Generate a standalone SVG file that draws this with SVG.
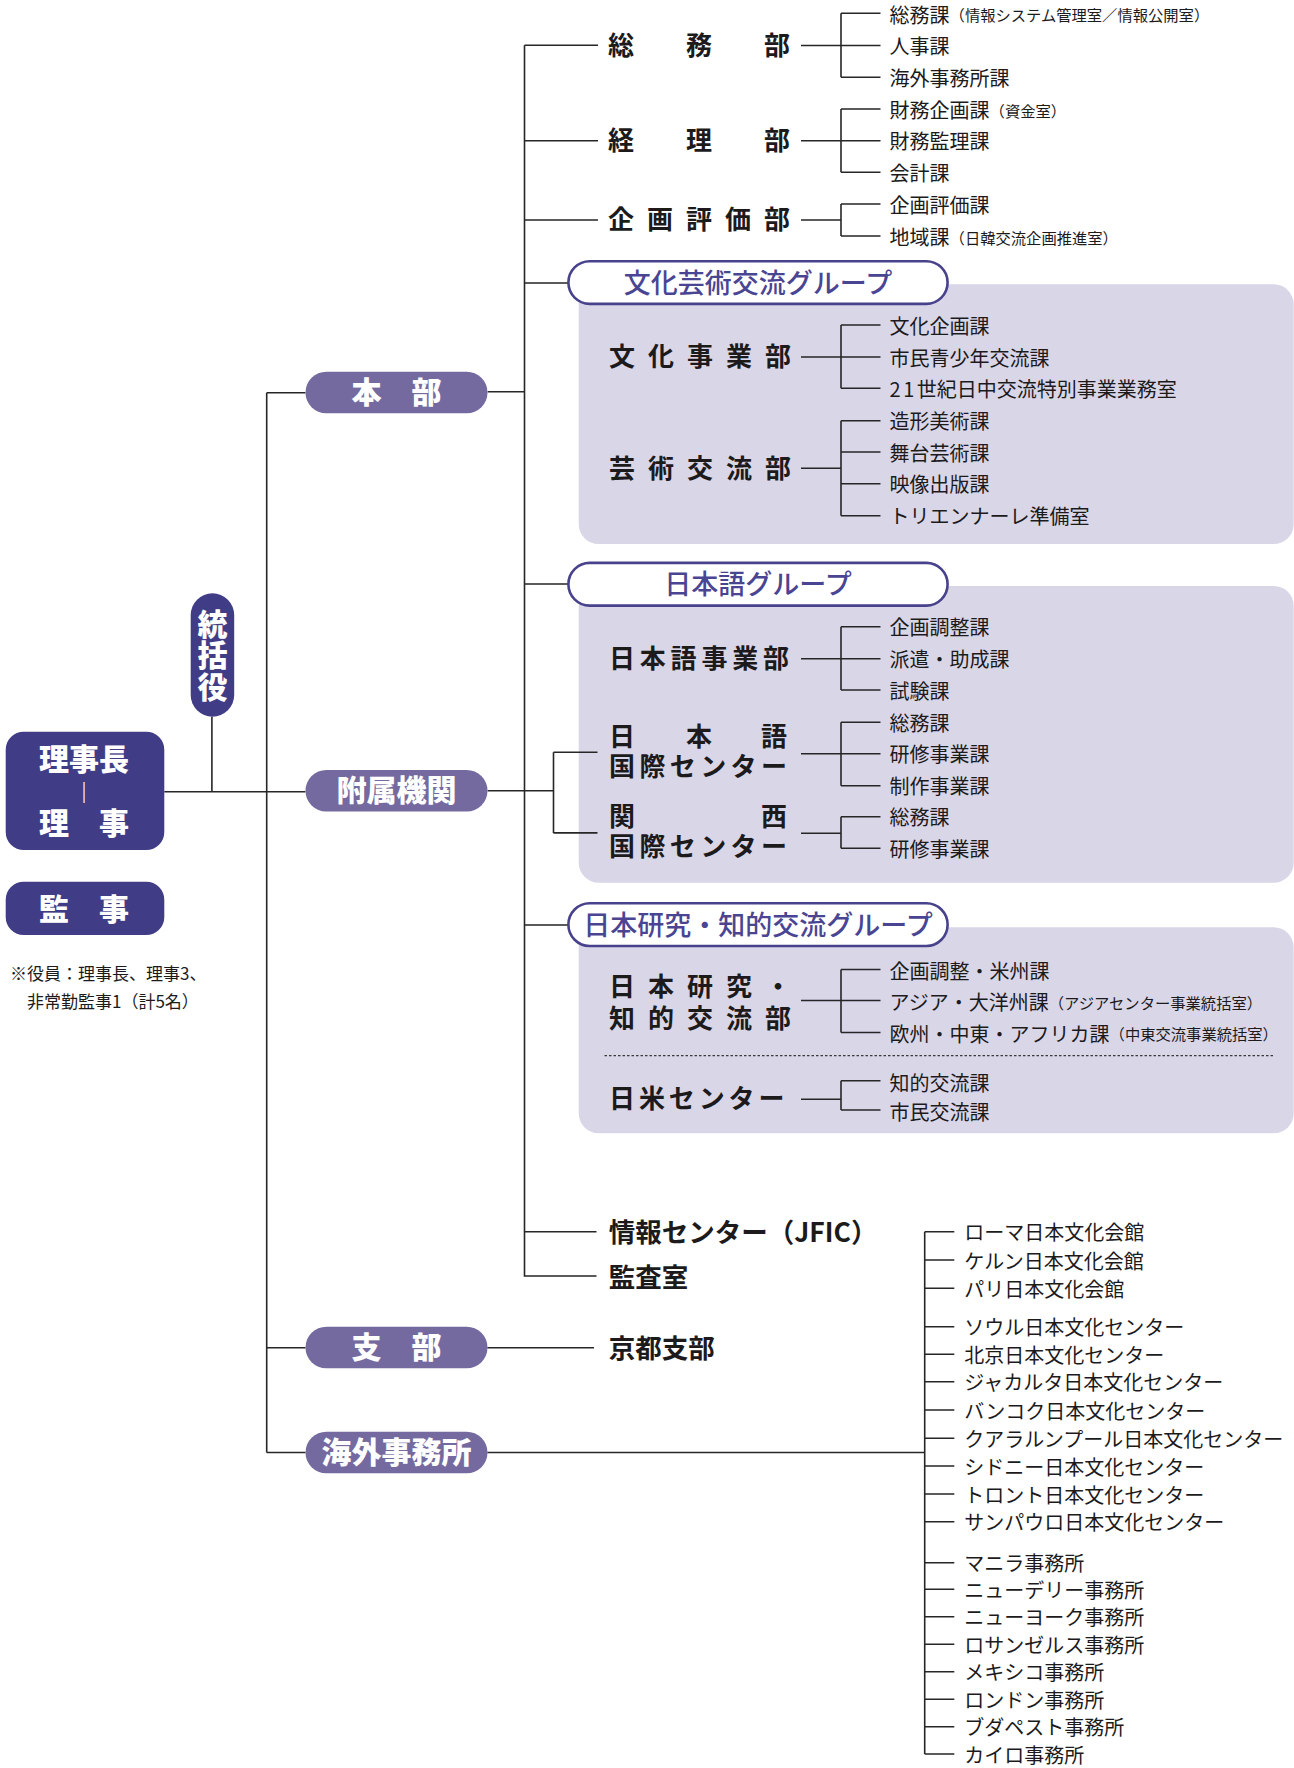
<svg xmlns="http://www.w3.org/2000/svg" width="1294" height="1768" viewBox="0 0 1294 1768">
<defs>
<style>
text{font-family:"Noto Sans CJK JP","Noto Sans CJK SC",sans-serif;dominant-baseline:central;fill:#1c1a1b}
.ln{fill:none;stroke:#262626;stroke-width:1.6}
.dot{fill:none;stroke:#3a3a3a;stroke-width:1.2;stroke-dasharray:2.5 2}
.exec{fill:#403c85}
.pill{fill:#746a9f}
.grp{fill:#fff;stroke:#47428b;stroke-width:2.6}
.shade{fill:#d9d6e8}
.wt{fill:#fff;font-weight:900;font-size:30px;text-anchor:middle}
.gt{fill:#4a4592;font-size:27px;font-weight:500;text-anchor:middle}
.dept{font-size:26px;font-weight:700}
.big{font-size:26.5px;font-weight:700}
.sub{font-size:20px}
.sm{font-size:15.3px}
.note{font-size:17px}
</style>
</defs>
<rect width="1294" height="1768" fill="#fff"/>

<g id="bg-culture"><rect class="shade" x="578.7" y="284.3" width="715" height="259.7" rx="20"/></g>
<g id="bg-japanese"><rect class="shade" x="578.7" y="586" width="715" height="296.7" rx="20"/></g>
<g id="bg-studies"><rect class="shade" x="578.7" y="927.3" width="715" height="206" rx="20"/></g>

<g id="connectors">
<path class="ln" d="M524.5 45.3V1276H596.5M524.5 45.3H598M524.5 140.7H598M524.5 220H598M524.5 283H568.4M487.6 391.7H524.5M524.5 584H568.4M487.6 790.7H553.5M553.5 752.3V832.9M553.5 752.3H597.5M553.5 832.9H597.5M524.5 925H568.4M524.5 1231.7H596.5"/>
<path class="ln" d="M266.7 392.7V1452.5M266.7 392.7H305.5M164.3 791.7H305.5M211.9 716.7V791.7M266.7 1347.7H305.5M266.7 1452.5H305.5M487.3 1347.7H594M487.3 1452.5H924.7"/>
<path class="ln" d="M801 45.5H841M841 13.3V77.3M841 13.3H880.5M841 45.5H880.5M841 77.3H880.5"/>
<path class="ln" d="M801 140.7H841M841 109V172.3M841 109H880.5M841 140.7H880.5M841 172.3H880.5"/>
<path class="ln" d="M801 220H841M841 204V236M841 204H880.5M841 236H880.5"/>
<path class="ln" d="M801 357H841M841 325V388.3M841 325H880.5M841 357H880.5M841 388.3H880.5"/>
<path class="ln" d="M801 468.3H841M841 420.7V515.7M841 420.7H880.5M841 452H880.5M841 483.7H880.5M841 515.7H880.5"/>
<path class="ln" d="M801 658.7H841M841 626.7V690M841 626.7H880.5M841 658.7H880.5M841 690H880.5"/>
<path class="ln" d="M801 753.7H841M841 722.3V785.7M841 722.3H880.5M841 753.7H880.5M841 785.7H880.5"/>
<path class="ln" d="M801 833.3H841M841 816.7V848.3M841 816.7H880.5M841 848.3H880.5"/>
<path class="ln" d="M801 1000.5H841M841 969.5V1032.5M841 969.5H880.5M841 1000.5H880.5M841 1032.5H880.5"/>
<path class="ln" d="M801 1099.3H841M841 1080.7V1110M841 1080.7H880.5M841 1110H880.5"/>
<path class="dot" d="M604.5 1055.7H1274"/>
<path class="ln" d="M924.7 1231.7V1754M924.7 1231.7H954.3M924.7 1260H954.3M924.7 1288.3H954.3M924.7 1326.7H954.3M924.7 1354.3H954.3M924.7 1381.7H954.3M924.7 1410H954.3M924.7 1438.3H954.3M924.7 1466H954.3M924.7 1494H954.3M924.7 1521.7H954.3M924.7 1562.7H954.3M924.7 1589.3H954.3M924.7 1616.7H954.3M924.7 1644.3H954.3M924.7 1671.7H954.3M924.7 1699.3H954.3M924.7 1726.7H954.3M924.7 1754H954.3"/>
</g>

<g id="n-chairman">
<rect class="exec" x="5.7" y="731.7" width="158.6" height="118.3" rx="18"/>
<text class="wt" x="84" y="756.5">理事長</text>
<text class="wt" x="84" y="791" style="font-size:21px">｜</text>
<text class="wt" x="84" y="821">理　事</text>
</g>
<g id="n-auditor">
<rect class="exec" x="5.7" y="881.7" width="158.6" height="53.3" rx="18"/>
<text class="wt" x="84" y="906.5">監　事</text>
</g>
<g id="n-tokatsu">
<rect class="exec" x="190.7" y="593.3" width="43.5" height="123.4" rx="21.75"/>
<text class="wt" x="212.5" y="655.5" style="writing-mode:vertical-rl;letter-spacing:1.5px">統括役</text>
</g>
<g id="n-note">
<text class="note" x="10" y="972">※役員：理事長、理事3、</text>
<text class="note" x="27" y="1000">非常勤監事1（計5名）</text>
</g>

<g id="n-honbu"><rect class="pill" x="305.5" y="371.7" width="182" height="41.6" rx="20.8"/><text class="wt" x="396.5" y="389.5">本　部</text></g>
<g id="n-fuzoku"><rect class="pill" x="305.5" y="770" width="182" height="41.6" rx="20.8"/><text class="wt" x="396.5" y="788">附属機関</text></g>
<g id="n-shibu"><rect class="pill" x="305.5" y="1326.7" width="182" height="41.6" rx="20.8"/><text class="wt" x="396.5" y="1344.5">支　部</text></g>
<g id="n-kaigai"><rect class="pill" x="305.5" y="1431.7" width="182" height="41.6" rx="20.8"/><text class="wt" x="396.5" y="1449.5">海外事務所</text></g>

<g id="n-somu">
<text class="dept" x="608 686 764" y="43">総務部</text>
<text class="sub" x="889.6" y="14">総務課<tspan class="sm">（情報システム管理室／情報公開室）</tspan></text>
<text class="sub" x="889.6" y="45.7">人事課</text>
<text class="sub" x="889.6" y="77.5">海外事務所課</text>
</g>
<g id="n-keiri">
<text class="dept" x="608 686 764" y="138.2">経理部</text>
<text class="sub" x="889.6" y="109.5">財務企画課<tspan class="sm">（資金室）</tspan></text>
<text class="sub" x="889.6" y="140.7">財務監理課</text>
<text class="sub" x="889.6" y="172.5">会計課</text>
</g>
<g id="n-kikaku">
<text class="dept" x="608 647 686 725 764" y="217.5">企画評価部</text>
<text class="sub" x="889.6" y="204">企画評価課</text>
<text class="sub" x="889.6" y="236.5">地域課<tspan class="sm">（日韓交流企画推進室）</tspan></text>
</g>

<g id="n-grp-culture"><rect class="grp" x="568.4" y="261.2" width="379.2" height="42.7" rx="21.3"/><text class="gt" x="758" y="281">文化芸術交流グループ</text></g>
<g id="n-bunka">
<text class="dept" x="609 648 687 726 765" y="354.5">文化事業部</text>
<text class="sub" x="889.6" y="325">文化企画課</text>
<text class="sub" x="889.6" y="357">市民青少年交流課</text>
<text class="sub" x="889.6" y="388.3"><tspan style="letter-spacing:2.5px">21</tspan>世紀日中交流特別事業業務室</text>
</g>
<g id="n-geijutsu">
<text class="dept" x="609 648 687 726 765" y="466">芸術交流部</text>
<text class="sub" x="889.6" y="420.7">造形美術課</text>
<text class="sub" x="889.6" y="452">舞台芸術課</text>
<text class="sub" x="889.6" y="483.7">映像出版課</text>
<text class="sub" x="889.6" y="515.7">トリエンナーレ準備室</text>
</g>

<g id="n-grp-japanese"><rect class="grp" x="568.4" y="562.9" width="379.2" height="42.7" rx="21.3"/><text class="gt" x="758" y="582.5">日本語グループ</text></g>
<g id="n-nihongo">
<text class="dept" x="609 639.8 670.6 701.4 732.2 763" y="656.5">日本語事業部</text>
<text class="sub" x="889.6" y="626.7">企画調整課</text>
<text class="sub" x="889.6" y="658.7">派遣・助成課</text>
<text class="sub" x="889.6" y="690">試験課</text>
</g>
<g id="n-jlc">
<text class="dept" x="609 686 761" y="734.5">日本語</text>
<text class="dept" x="609 639.4 669.8 700.2 730.6 761" y="764.5">国際センター</text>
<text class="sub" x="889.6" y="722.3">総務課</text>
<text class="sub" x="889.6" y="753.7">研修事業課</text>
<text class="sub" x="889.6" y="785.7">制作事業課</text>
</g>
<g id="n-kansai">
<text class="dept" x="609 761" y="814.5">関西</text>
<text class="dept" x="609 639.4 669.8 700.2 730.6 761" y="844.5">国際センター</text>
<text class="sub" x="889.6" y="816.7">総務課</text>
<text class="sub" x="889.6" y="848.3">研修事業課</text>
</g>

<g id="n-grp-studies"><rect class="grp" x="568.4" y="903.3" width="379.2" height="42.7" rx="21.3"/><text class="gt" x="758" y="923">日本研究・知的交流グループ</text></g>
<g id="n-nihonkenkyu">
<text class="dept" x="609 648 687 726 765" y="984.5">日本研究・</text>
<text class="dept" x="609 648 687 726 765" y="1016">知的交流部</text>
<text class="sub" x="889.6" y="970">企画調整・米州課</text>
<text class="sub" x="889.6" y="1001.5">アジア・大洋州課<tspan class="sm">（アジアセンター事業統括室）</tspan></text>
<text class="sub" x="889.6" y="1033.3">欧州・中東・アフリカ課<tspan class="sm">（中東交流事業統括室）</tspan></text>
</g>
<g id="n-nichibei">
<text class="dept" x="609 638.9 668.8 698.7 728.6 758.5" y="1096">日米センター</text>
<text class="sub" x="889.6" y="1082">知的交流課</text>
<text class="sub" x="889.6" y="1111.5">市民交流課</text>
</g>

<g id="n-jfic"><text class="big" x="608.8" y="1230.5">情報センター（JFIC）</text></g>
<g id="n-kansa"><text class="big" x="608.8" y="1275.5">監査室</text></g>
<g id="n-kyoto"><text class="big" x="608.8" y="1346">京都支部</text></g>

<g id="n-overseas">
<text class="sub" x="964.2" y="1231.7">ローマ日本文化会館</text>
<text class="sub" x="964.2" y="1260">ケルン日本文化会館</text>
<text class="sub" x="964.2" y="1288.3">パリ日本文化会館</text>
<text class="sub" x="964.2" y="1326.7">ソウル日本文化センター</text>
<text class="sub" x="964.2" y="1354.3">北京日本文化センター</text>
<text class="sub" x="964.2" y="1381.7">ジャカルタ日本文化センター</text>
<text class="sub" x="964.2" y="1410">バンコク日本文化センター</text>
<text class="sub" x="964.2" y="1438.3">クアラルンプール日本文化センター</text>
<text class="sub" x="964.2" y="1466">シドニー日本文化センター</text>
<text class="sub" x="964.2" y="1494">トロント日本文化センター</text>
<text class="sub" x="964.2" y="1521.7">サンパウロ日本文化センター</text>
<text class="sub" x="964.2" y="1562.7">マニラ事務所</text>
<text class="sub" x="964.2" y="1589.3">ニューデリー事務所</text>
<text class="sub" x="964.2" y="1616.7">ニューヨーク事務所</text>
<text class="sub" x="964.2" y="1644.3">ロサンゼルス事務所</text>
<text class="sub" x="964.2" y="1671.7">メキシコ事務所</text>
<text class="sub" x="964.2" y="1699.3">ロンドン事務所</text>
<text class="sub" x="964.2" y="1726.7">ブダペスト事務所</text>
<text class="sub" x="964.2" y="1754">カイロ事務所</text>
</g>
</svg>
